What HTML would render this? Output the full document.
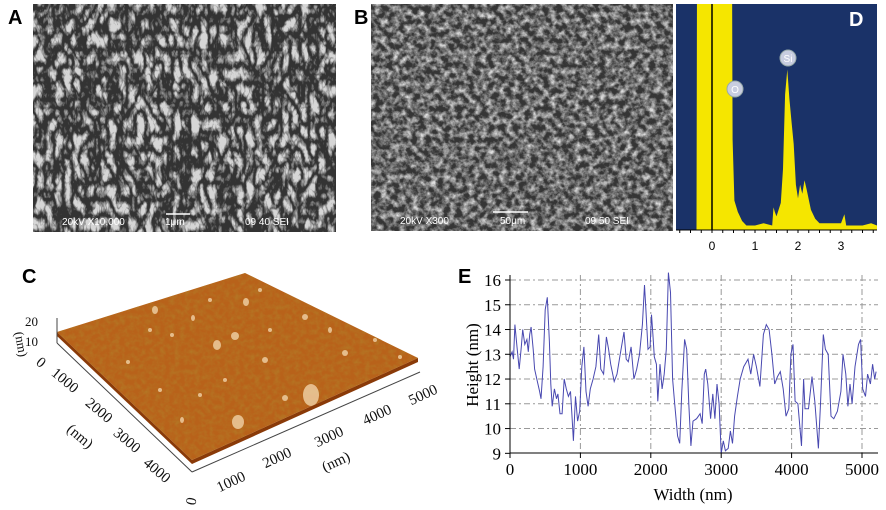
<!DOCTYPE html>
<html><head><meta charset="utf-8">
<style>
html,body{margin:0;padding:0;background:#fff;}
svg{display:block;font-family:"Liberation Serif",serif;}
.lbl{font-family:"Liberation Sans",sans-serif;font-weight:bold;font-size:20px;}
.sem{font-family:"Liberation Sans",sans-serif;font-size:10px;fill:#fff;}
</style></head>
<body>
<svg id="fig" width="886" height="510" viewBox="0 0 886 510" xmlns="http://www.w3.org/2000/svg">
<defs>
<filter id="fA" x="0" y="0" width="100%" height="100%">
 <feTurbulence type="turbulence" baseFrequency="0.11 0.06" numOctaves="3" seed="3"/>
 <feColorMatrix type="matrix" values="0 0 0 0 1  0 0 0 0 1  0 0 0 0 1  3 0 0 0 -0.6"/>
</filter>
<filter id="fB" x="0" y="0" width="100%" height="100%">
 <feTurbulence type="fractalNoise" baseFrequency="0.16" numOctaves="4" seed="7"/>
 <feColorMatrix type="matrix" values="0 0 0 0 1  0 0 0 0 1  0 0 0 0 1  2 0 0 0 -0.7"/>
</filter>
<filter id="fC" x="0" y="0" width="100%" height="100%">
 <feTurbulence type="fractalNoise" baseFrequency="0.2" numOctaves="3" seed="11" result="n"/>
 <feColorMatrix in="n" type="matrix" values="0 0 0 0 0.45  0 0 0 0 0.2  0 0 0 0 0.02  1.4 0 0 0 -0.5"/>
</filter>
<clipPath id="clipD"><rect x="676" y="4" width="201" height="226"/></clipPath>
<clipPath id="clipC"><polygon points="57,332 245,273 418,358 192,460"/></clipPath>
</defs>

<!-- Panel A -->
<g>
<text class="lbl" x="8" y="24">A</text>
<rect x="33" y="4" width="303" height="228" fill="#333"/>
<rect x="33" y="4" width="303" height="228" fill="#fff" filter="url(#fA)" opacity="0.8"/>
<text class="sem" x="62" y="225">20kV   X10,000</text>
<line x1="166" y1="214" x2="190" y2="214" stroke="#fff" stroke-width="1.5"/>
<text class="sem" x="165" y="225">1μm</text>
<text class="sem" x="245" y="225">09 40 SEI</text>
</g>

<!-- Panel B -->
<g>
<text class="lbl" x="354" y="24">B</text>
<rect x="371" y="4" width="302" height="227" fill="#353535"/>
<rect x="371" y="4" width="302" height="227" fill="#fff" filter="url(#fB)" opacity="0.85"/>
<text class="sem" x="400" y="224">20kV    X300</text>
<line x1="493" y1="212" x2="528" y2="212" stroke="#fff" stroke-width="1.5"/>
<text class="sem" x="500" y="224">50μm</text>
<text class="sem" x="585" y="224">09 50 SEI</text>
</g>

<!-- Panel D -->
<g>
<rect x="676" y="4" width="201" height="226" fill="#1a3268"/>
<g clip-path="url(#clipD)"><path id="dPath" fill="#f5e600"/></g>
<line x1="712" y1="4" x2="712" y2="230" stroke="#000" stroke-width="1.5"/>
<line x1="676" y1="230" x2="877" y2="230" stroke="#000" stroke-width="1"/>
<g id="dTicks"></g>
<g><circle cx="735" cy="89" r="8" fill="#c8cde0" stroke="#9aa" /><text x="735" y="93" text-anchor="middle" font-family="Liberation Sans" font-size="10" fill="#fff">O</text></g>
<g><circle cx="788" cy="58" r="8" fill="#c8cde0" stroke="#9aa"/><text x="788" y="62" text-anchor="middle" font-family="Liberation Sans" font-size="10" fill="#fff">Si</text></g>
<text class="lbl" x="849" y="26" fill="#fff">D</text>
</g>

<!-- Panel C -->
<g>
<text class="lbl" x="22" y="283">C</text>
<polygon points="57,332 57,336 192,464 418,362 418,358 192,460" fill="#8a3a08"/>
<polygon points="57,332 245,273 418,358 192,460" fill="#b8621a"/>
<g clip-path="url(#clipC)"><rect x="50" y="265" width="380" height="200" fill="#fff" filter="url(#fC)"/>
<g fill="#f0d3a8" opacity="0.8">
<ellipse cx="311" cy="395" rx="8" ry="11"/><ellipse cx="238" cy="422" rx="6" ry="7"/><ellipse cx="217" cy="345" rx="4" ry="5"/><ellipse cx="235" cy="336" rx="4" ry="4"/><ellipse cx="246" cy="302" rx="3" ry="4"/><ellipse cx="155" cy="310" rx="3" ry="4"/><ellipse cx="305" cy="317" rx="3" ry="3"/><ellipse cx="345" cy="353" rx="3" ry="3"/><ellipse cx="265" cy="360" rx="3" ry="3"/><ellipse cx="182" cy="420" rx="2" ry="3"/><ellipse cx="285" cy="398" rx="3" ry="3"/><ellipse cx="128" cy="362" rx="2" ry="2"/><ellipse cx="172" cy="335" rx="2" ry="2"/><ellipse cx="375" cy="340" rx="2" ry="2"/><ellipse cx="200" cy="395" rx="2" ry="2"/><ellipse cx="150" cy="330" rx="2" ry="2"/><ellipse cx="193" cy="318" rx="2" ry="3"/><ellipse cx="270" cy="330" rx="2" ry="2"/><ellipse cx="330" cy="330" rx="2" ry="3"/><ellipse cx="210" cy="300" rx="2" ry="2"/><ellipse cx="260" cy="290" rx="2" ry="2"/><ellipse cx="225" cy="380" rx="2" ry="2"/><ellipse cx="160" cy="390" rx="2" ry="2"/><ellipse cx="400" cy="357" rx="2" ry="2"/>
</g></g>
<g stroke="#444" stroke-width="1" fill="none">
<line x1="57" y1="343" x2="192" y2="472"/><line x1="192" y1="472" x2="420" y2="372"/>
<line x1="57" y1="318" x2="57" y2="343"/>
</g>
<g font-size="15" fill="#111">
<text x="38" y="326" text-anchor="end" font-size="13">20</text><text x="38" y="346" text-anchor="end" font-size="13">10</text>
<text transform="translate(17,345) rotate(80)" text-anchor="middle" font-size="13">(nm)</text>
<text transform="translate(38,366) rotate(40)" text-anchor="middle">0</text>
<text transform="translate(62,384) rotate(40)" text-anchor="middle">1000</text>
<text transform="translate(96,414) rotate(40)" text-anchor="middle">2000</text>
<text transform="translate(124,444) rotate(40)" text-anchor="middle">3000</text>
<text transform="translate(154,474) rotate(40)" text-anchor="middle">4000</text>
<text transform="translate(77,440) rotate(40)" text-anchor="middle">(nm)</text>
<text transform="translate(196,502) rotate(-80)" text-anchor="middle">0</text>
<text transform="translate(233,486) rotate(-25)" text-anchor="middle">1000</text>
<text transform="translate(279,462) rotate(-25)" text-anchor="middle">2000</text>
<text transform="translate(331,441) rotate(-25)" text-anchor="middle">3000</text>
<text transform="translate(379,419) rotate(-25)" text-anchor="middle">4000</text>
<text transform="translate(425,399) rotate(-25)" text-anchor="middle">5000</text>
<text transform="translate(338,466) rotate(-25)" text-anchor="middle">(nm)</text>
</g>
</g>

<!-- Panel E -->
<g>
<text class="lbl" x="458" y="283">E</text>
<g id="eGrid"></g>
<path id="eLine" fill="none" stroke="#4848b0" stroke-width="1"/>
<line x1="510" y1="275" x2="510" y2="453" stroke="#000"/>
<line x1="510" y1="453" x2="878" y2="453" stroke="#000"/>
<g id="eTicks"></g>
<text x="693" y="500" text-anchor="middle" font-size="17">Width (nm)</text>
<text transform="translate(478,365) rotate(-90)" text-anchor="middle" font-size="17">Height (nm)</text>
</g>
</svg>
<script>
// Panel E data
const eWidth=[0,30,50,70,100,130,160,180,210,240,260,280,300,330,350,380,420,440,470,500,530,560,580,600,630,660,680,710,740,770,800,830,860,880,900,930,960,990,1020,1050,1080,1110,1140,1180,1220,1260,1290,1330,1370,1400,1430,1480,1520,1560,1620,1650,1680,1720,1760,1800,1840,1880,1910,1930,1960,1990,2010,2030,2050,2080,2100,2130,2160,2190,2220,2250,2280,2310,2340,2380,2410,2440,2480,2510,2540,2570,2600,2650,2700,2730,2760,2780,2810,2850,2880,2910,2940,2970,3000,3030,3060,3100,3130,3160,3190,3230,3270,3320,3380,3420,3460,3500,3550,3600,3640,3680,3720,3760,3800,3840,3880,3920,3960,3990,4020,4050,4090,4140,4170,4190,4240,4290,4330,4380,4410,4450,4480,4520,4560,4600,4650,4700,4730,4770,4800,4830,4860,4900,4950,4980,5010,5050,5080,5120,5150,5180,5200];
const eHeight=[12.9,13.1,12.8,14.2,13.3,12.4,13.3,14.0,13.4,13.6,13.1,13.8,14.1,13.2,12.4,12.0,11.5,11.2,12.5,14.8,15.3,13.5,11.8,10.9,11.6,11.2,11.4,10.6,10.6,12.0,11.6,11.3,11.5,10.5,9.5,11.3,10.3,10.7,12.5,13.3,11.5,10.9,11.6,12.0,12.5,13.8,12.4,12.2,13.7,13.2,12.6,11.9,12.2,12.9,13.9,12.8,12.7,13.3,12.0,12.4,13.0,14.2,15.8,14.8,13.2,13.3,14.6,13.8,12.9,12.6,11.1,12.6,11.6,12.2,13.2,16.3,15.5,12.0,11.0,9.7,9.4,11.5,13.6,13.2,11.0,9.3,10.3,10.4,10.6,10.2,12.2,12.4,11.8,10.4,11.4,10.4,11.8,11.0,9.0,9.5,9.1,9.2,9.9,9.4,10.5,11.3,12.0,12.5,12.8,12.2,13.0,12.5,11.7,13.8,14.2,14.0,13.0,11.8,12.1,12.3,11.6,10.5,10.8,13.0,13.4,11.1,11.0,9.3,12.0,10.8,10.8,12.1,11.1,9.2,11.0,13.8,13.2,13.0,10.5,10.4,10.7,11.5,13.0,12.2,10.9,11.8,11.0,12.5,13.4,13.6,11.6,11.3,12.2,11.8,12.6,12.0,12.3];
const eXTicks=[0,1000,2000,3000,4000,5000];
const eYTicks=[9,10,11,12,13,14,15,16];
// Panel D data
const dEnergy=[-0.84,-0.36,-0.34,0.45,0.48,0.52,0.6,0.7,0.8,1.0,1.2,1.4,1.43,1.46,1.5,1.6,1.65,1.7,1.75,1.8,1.85,1.9,1.95,2.0,2.05,2.1,2.15,2.2,2.3,2.4,2.5,2.7,3.0,3.08,3.12,3.2,3.5,3.7,3.84];
const dCounts=[0,0,200,200,40,13,8,4,2,2,3,2,10,8,6,12,27,60,71,58,48,38,20,14,20,16,22,18,9,5,3,3,3,7,2,2,2,3,2];
const dTickVals=[0,1,2,3];

const NS="http://www.w3.org/2000/svg";
function mk(tag,attrs,parent){const el=document.createElementNS(NS,tag);for(const k in attrs)el.setAttribute(k,attrs[k]);parent.appendChild(el);return el;}
const ex=v=>510+v*0.0704, ey=v=>280+(16-v)*24.76;
const eGrid=document.getElementById('eGrid'), eTicks=document.getElementById('eTicks');
eXTicks.forEach(v=>{
 if(v>0){const g=mk('line',{x1:ex(v),y1:275,x2:ex(v),y2:453,stroke:'#999','stroke-dasharray':'6 3 2 3'},eGrid);
 
 }
 mk('line',{x1:ex(v),y1:453,x2:ex(v),y2:458,stroke:'#000'},eTicks);
 const t=mk('text',{x:ex(v),y:475,'text-anchor':'middle','font-size':'17'},eTicks);t.textContent=v;
 
 
});
eYTicks.forEach(v=>{
 if(v>9){const g=mk('line',{x1:510,y1:ey(v),x2:878,y2:ey(v),stroke:'#999','stroke-dasharray':'6 3 2 3'},eGrid);
 
 }
 mk('line',{x1:505,y1:ey(v),x2:510,y2:ey(v),stroke:'#000'},eTicks);
 const t=mk('text',{x:501,y:ey(v)+6,'text-anchor':'end','font-size':'17'},eTicks);t.textContent=v;
 
 
});
document.getElementById('eLine').setAttribute('d',eWidth.map((w,i)=>(i?'L':'M')+ex(w).toFixed(1)+','+ey(eHeight[i]).toFixed(1)).join(''));

const dx=v=>712+v*43, dy=v=>230-v*2.26;
let dp='M'+dx(dEnergy[0])+','+230;
dEnergy.forEach((e,i)=>{dp+='L'+dx(e).toFixed(1)+','+dy(dCounts[i]).toFixed(1);});
dp+='L'+dx(dEnergy[dEnergy.length-1])+',230Z';
document.getElementById('dPath').setAttribute('d',dp);
const dT=document.getElementById('dTicks');
for(let v=-0.75;v<=3.76;v+=0.25){mk('line',{x1:dx(v),y1:230,x2:dx(v),y2:233,stroke:'#000'},dT);}
dTickVals.forEach(v=>{const t=mk('text',{x:dx(v),y:250,'text-anchor':'middle','font-size':'12','font-family':'Liberation Sans'},dT);t.textContent=v;
 
 });
</script>
</body></html>
